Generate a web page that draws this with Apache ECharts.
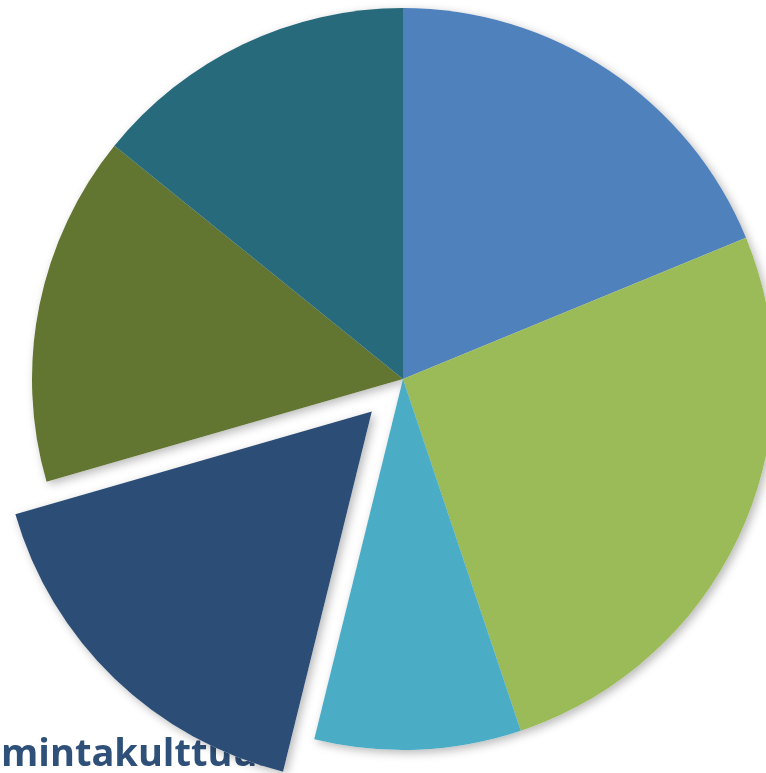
<!DOCTYPE html>
<html>
<head>
<meta charset="utf-8">
<script src="https://cdn.jsdelivr.net/npm/echarts@6/dist/echarts.min.js"></script>
<style>
html,body{margin:0;padding:0;background:#fff;overflow:hidden;}
#chart{width:766px;height:773px;}
</style>
</head>
<body>
<div id="chart"></div>
<script>
// Data
var categories = ['Osa 1', 'Osa 2', 'Osa 3', 'Toimintakulttuuri', 'Osa 5', 'Osa 6'];
var values = [18.8, 26.1, 9.0, 16.7, 15.3, 14.2];
var colors = ['#4F81BD', '#9BBB59', '#4BACC6', '#2C4D75', '#627531', '#266A7B'];
var labelText = 'Toimintakulttuuri';
var hiddenPrefix = 'Toi';

var labelFont = 'bold 38px "Open Sans"';
var cv = document.createElement('canvas').getContext('2d');
cv.font = labelFont;
var prefixW = cv.measureText(hiddenPrefix).width;

var chart = echarts.init(document.getElementById('chart'), null, {renderer: 'canvas'});
function makeData(withColor) {
  return categories.map(function (c, i) {
    return {
      name: c,
      value: values[i],
      selected: i === 3,
      itemStyle: {color: withColor ? colors[i] : '#ffffff'}
    };
  });
}
var common = {
  type: 'pie',
  center: [403, 379],
  radius: [0, 371],
  startAngle: 90,
  clockwise: true,
  selectedMode: 'single',
  selectedOffset: 45,
  label: {show: false},
  labelLine: {show: false},
  emphasis: {disabled: true},
  silent: true
};
chart.setOption({
  animation: false,
  graphic: [{
    type: 'text',
    z: 0,
    left: -prefixW + 1,
    top: 736,
    style: {
      text: labelText,
      font: labelFont,
      fill: '#2E5079'
    }
  }],
  series: [
    Object.assign({}, common, {
      z: 3,
      itemStyle: {
        borderWidth: 0,
        shadowBlur: 10,
        shadowColor: 'rgba(0,0,0,0.28)',
        shadowOffsetX: 3,
        shadowOffsetY: 3
      },
      data: makeData(false)
    }),
    Object.assign({}, common, {
      z: 5,
      itemStyle: {borderWidth: 0},
      data: makeData(true)
    })
  ]
});
</script>
</body>
</html>
